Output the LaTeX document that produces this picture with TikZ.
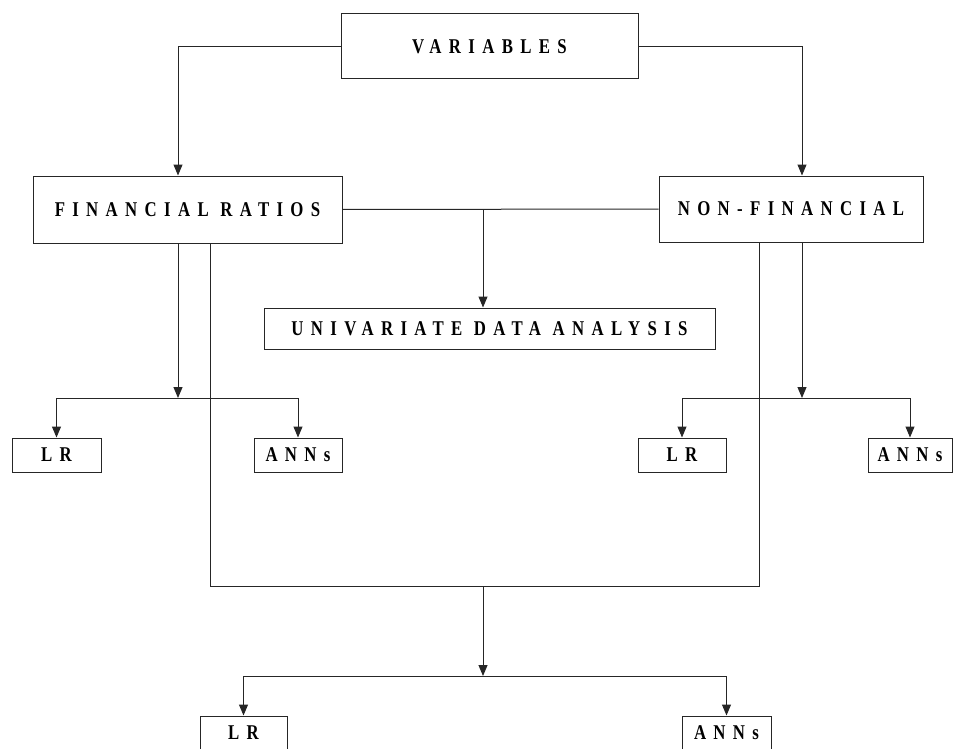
\documentclass[tikz,border=0pt]{standalone}
\usepackage{fontspec}
\setmainfont{Liberation Serif}[FakeStretch=0.8,LetterSpace=35]
\usetikzlibrary{arrows.meta}

\tikzset{
  box/.style={draw=black!85,line width=1pt,inner sep=0pt,align=center,
    font=\fontsize{21}{21}\selectfont\bfseries},
  arr/.style={draw=black!85,line width=1pt,-{Triangle[length=11pt,width=9pt]}},
  ln/.style={draw=black!85,line width=1pt}
}

\begin{document}
\begin{tikzpicture}[x=1pt,y=-1pt]
  \useasboundingbox (0,0) rectangle (955,749);
  % boxes
  \node[box,minimum width=297pt,minimum height=65pt] (vars) at (489.5,46.5) {VARIABLES};
  \node[box,minimum width=309pt,minimum height=67pt] (fin) at (187.5,209.5) {FINANCIAL RATIOS};
  \node[box,minimum width=264pt,minimum height=66pt] (nonfin) at (791,209) {NON-FINANCIAL};
  \node[box,minimum width=451pt,minimum height=41pt] (uni) at (489.5,328.5) {UNIVARIATE DATA ANALYSIS};
  \node[box,minimum width=89pt,minimum height=34pt] (lrA) at (56.5,455) {LR};
  \node[box,minimum width=88pt,minimum height=34pt] (annA) at (298,455) {ANNs};
  \node[box,minimum width=88pt,minimum height=34pt] (lrB) at (682,455) {LR};
  \node[box,minimum width=84pt,minimum height=34pt] (annB) at (910,455) {ANNs};
  \node[box,minimum width=87pt,minimum height=33pt] (lrC) at (243.5,732.5) {LR};
  \node[box,minimum width=89pt,minimum height=33pt] (annC) at (726.5,732.5) {ANNs};
  % split points
  \coordinate (fsplit) at (178,398);
  \coordinate (nsplit) at (802,398);
  \coordinate (hub) at (483,209);
  \coordinate (jl) at (210,586);
  \coordinate (jr) at (759,586);
  \coordinate (jm) at (483,586);
  \coordinate (bsplit) at (483,676);
  % connectors
  \draw[arr] (vars.west) -| (fsplit |- fin.north);
  \draw[arr] (vars.east) -| (nsplit |- nonfin.north);
  \draw[ln] (fin.east) -- (nonfin.west);
  \draw[arr] (hub) -- (hub |- uni.north);
  \draw[arr] (fsplit |- fin.south) -- (fsplit);
  \draw[arr] (fsplit) -| (lrA.north);
  \draw[arr] (fsplit) -| (annA.north);
  \draw[arr] (nsplit |- nonfin.south) -- (nsplit);
  \draw[arr] (nsplit) -| (lrB.north);
  \draw[arr] (nsplit) -| (annB.north);
  \draw[ln] (jl |- fin.south) -- (jl) -- (jr) -- (jr |- nonfin.south);
  \draw[arr] (jm) -- (bsplit);
  \draw[arr] (bsplit) -| (lrC.north);
  \draw[arr] (bsplit) -| (annC.north);
\end{tikzpicture}
\end{document}
